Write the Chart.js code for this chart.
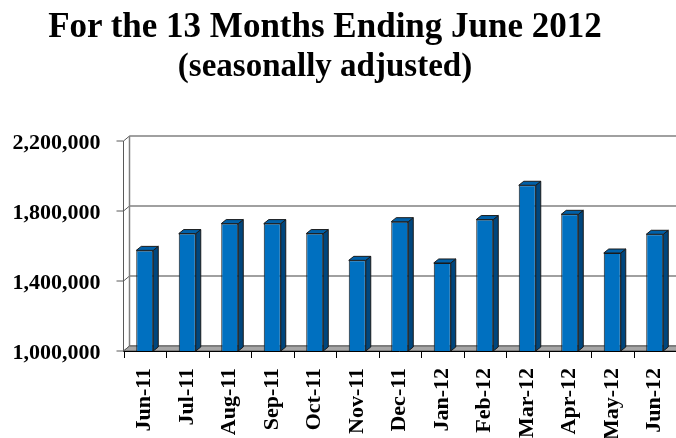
<!DOCTYPE html>
<html>
<head>
<meta charset="utf-8">
<script src="https://cdn.jsdelivr.net/npm/chart.js@4"></script>
<style>
  body { margin:0; background:#fff; }
  #wrap { position:relative; width:676px; height:438px; overflow:hidden; }
  .title { position:absolute; left:0; width:650px; text-align:center; color:#000;
           font-family:"Liberation Serif", "Times New Roman", serif; font-weight:bold; white-space:nowrap; }
  #t1 { top:8px; font-size:35px; line-height:35px; }
  #t2 { top:49px; font-size:33px; line-height:33px; }
</style>
</head>
<body>
<div id="wrap">
  <div class="title" id="t1">For the 13 Months Ending June 2012</div>
  <div class="title" id="t2">(seasonally adjusted)</div>
  <canvas id="chart" width="676" height="438"></canvas>
</div>
<script>
// =======================
// Data
// =======================
const months = ["Jun-11","Jul-11","Aug-11","Sep-11","Oct-11","Nov-11","Dec-11","Jan-12","Feb-12","Mar-12","Apr-12","May-12","Jun-12"];
const totals = [1575000, 1671000, 1728000, 1728000, 1671000, 1518000, 1739000, 1503000, 1751000, 1947000, 1781000, 1560000, 1667000];
const yTickValues = [1000000, 1400000, 1800000, 2200000];

// =======================
// 3D look helpers
// =======================
const WALL_DX = 6, WALL_DY = 5;   // back wall offset
const BAR_DX = 5, BAR_DY = 4;     // bar depth

function poly(ctx, pts, fill, stroke){
  ctx.beginPath();
  ctx.moveTo(pts[0][0], pts[0][1]);
  for(let i=1;i<pts.length;i++) ctx.lineTo(pts[i][0], pts[i][1]);
  ctx.closePath();
  if(fill){ ctx.fillStyle = fill; ctx.fill(); }
  if(stroke){ ctx.strokeStyle = stroke; ctx.lineWidth = 1; ctx.stroke(); }
}

const wallPlugin = {
  id: 'wall',
  beforeDatasetsDraw(chart){
    const ctx = chart.ctx;
    const a = chart.chartArea;
    const y = chart.scales.y;
    const L = a.left, R = a.right, T = a.top, B = a.bottom;
    ctx.save();

    // back wall gridlines + diagonals from front ticks
    yTickValues.forEach(v=>{
      const py = y.getPixelForValue(v);
      ctx.strokeStyle = '#808080';
      ctx.lineWidth = 1.5;
      ctx.beginPath();
      ctx.moveTo(L + WALL_DX, py - WALL_DY);
      ctx.lineTo(R + WALL_DX, py - WALL_DY);
      ctx.stroke();
      ctx.strokeStyle = '#595959';
      ctx.lineWidth = 1;
      ctx.beginPath();
      ctx.moveTo(L - 7, py);
      ctx.lineTo(L, py);
      ctx.lineTo(L + WALL_DX, py - WALL_DY);
      ctx.stroke();
    });

    // back wall left edge
    ctx.strokeStyle = '#808080';
    ctx.lineWidth = 1.5;
    ctx.beginPath();
    ctx.moveTo(L + WALL_DX, T - WALL_DY);
    ctx.lineTo(L + WALL_DX, B - WALL_DY);
    ctx.stroke();

    // floor
    poly(ctx, [[L,B],[R,B],[R+WALL_DX,B-WALL_DY],[L+WALL_DX,B-WALL_DY]], '#a6a6a6', '#595959');

    // front value axis
    ctx.strokeStyle = '#595959';
    ctx.lineWidth = 1;
    ctx.beginPath();
    ctx.moveTo(L, T);
    ctx.lineTo(L, B);
    ctx.stroke();

    // category axis + tick marks at boundaries
    ctx.strokeStyle = '#000';
    ctx.beginPath();
    ctx.moveTo(L, B + 0.5);
    ctx.lineTo(R, B + 0.5);
    const step = (R - L) / months.length;
    for(let i=0;i<=months.length;i++){
      const px = Math.round(L + i*step) + 0.5;
      ctx.moveTo(px, B);
      ctx.lineTo(px, B + 7);
    }
    ctx.stroke();
    ctx.restore();
  },
  afterDatasetsDraw(chart){
    const ctx = chart.ctx;
    const B = chart.chartArea.bottom;
    ctx.save();
    chart.getDatasetMeta(0).data.forEach(bar=>{
      const p = bar.getProps(['x','y','base','width'], true);
      const l = p.x - p.width/2, r = p.x + p.width/2;
      const base = Math.min(p.base, B);
      // side
      poly(ctx, [[r,p.y],[r+BAR_DX,p.y-BAR_DY],[r+BAR_DX,base-BAR_DY],[r,base]], '#00467d', '#1a1a1a');
      // top
      poly(ctx, [[l,p.y],[l+BAR_DX,p.y-BAR_DY],[r+BAR_DX,p.y-BAR_DY],[r,p.y]], '#0060a8', '#1a1a1a');
    });
    ctx.restore();
  }
};

// =======================
// Chart
// =======================
const labelFont = { family: '"Liberation Serif", "Times New Roman", serif', size: 22, weight: 'bold' };

new Chart(document.getElementById('chart').getContext('2d'), {
  type: 'bar',
  data: {
    labels: months,
    datasets: [{
      data: totals,
      backgroundColor: '#0070c0',
      borderColor: '#1a1a1a',
      borderWidth: 1,
      barPercentage: 0.4,
      categoryPercentage: 1.0
    }]
  },
  options: {
    responsive: false,
    devicePixelRatio: 1,
    animation: false,
    layout: { padding: { top: 141, left: 0, right: 0, bottom: 0 } },
    plugins: { legend: { display: false }, tooltip: { enabled: false }, title: { display: false } },
    scales: {
      x: {
        grid: { display: false, drawTicks: false },
        border: { display: false },
        ticks: { color: '#000', font: labelFont, minRotation: 90, maxRotation: 90, autoSkip: false, padding: 17 },
        // plot runs right up to the page edge, like the original
        afterFit(s){ s.height = 87; s.paddingLeft = 0; s.paddingRight = 0; }
      },
      y: {
        min: 1000000, max: 2200000,
        grid: { display: false, drawTicks: false },
        border: { display: false },
        afterBuildTicks(s){ s.ticks = yTickValues.map(v=>({ value: v })); },
        ticks: { color: '#000', font: labelFont, padding: 23, labelOffset: 2.5,
                 callback: v => v.toLocaleString('en-US') },
        afterFit(s){ s.width = 123.5; }
      }
    }
  },
  plugins: [wallPlugin]
});
</script>
</body>
</html>
